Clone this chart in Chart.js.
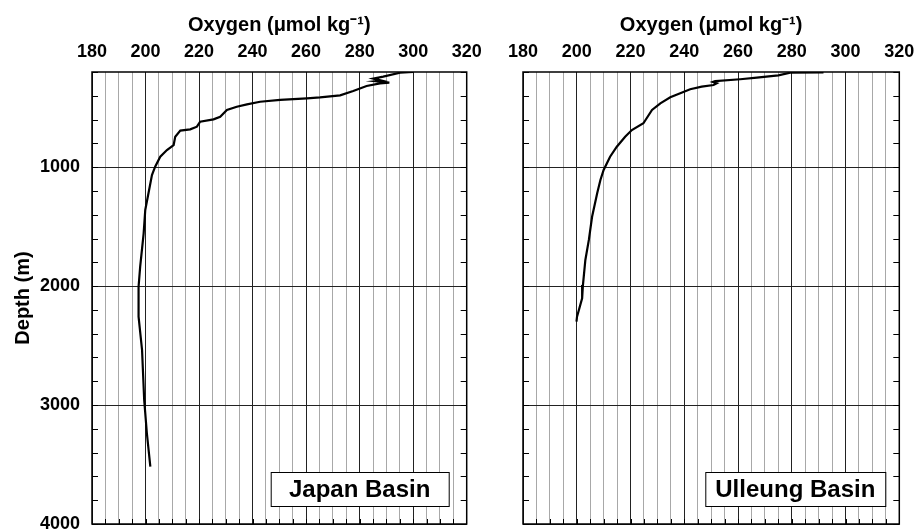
<!DOCTYPE html>
<html>
<head>
<meta charset="utf-8">
<script src="https://cdn.jsdelivr.net/npm/chart.js@4"></script>
<style>
  body { margin: 0; background: #fff; }
  .wrap { position: absolute; top: 0; }
</style>
</head>
<body>
<div class="wrap" style="left:0"><canvas id="grafico1" width="492" height="529"></canvas></div>
<div class="wrap" style="left:480px"><canvas id="grafico2" width="436" height="529"></canvas></div>
<script>
// perfis
const japanOxygen = [300, 295.1, 288.8, 285.1, 288.2, 286.1, 291.1, 287.6, 282.6, 277.6, 272.7, 265.2, 260.3, 250.3, 242.8, 237.9, 234.1, 230.4, 227.9, 225.4, 220.4, 219.2, 216.7, 213, 211.1, 210.5, 208, 205.5, 203.6, 202.4, 201.1, 199.9, 199.3, 198, 197.4, 197.4, 198.7, 199.5, 200.5, 201.8];
const japanDepth = [200, 206, 239, 256, 273, 278, 290, 295, 318, 360, 396, 413, 421, 435, 450, 472, 492, 519, 576, 598, 618, 660, 682, 693, 744, 814, 856, 912, 996, 1066, 1220, 1360, 1556, 1837, 2005, 2257, 2537, 2957, 3237, 3518];

const ulleungOxygen = [291.8, 279.4, 275, 267, 260.8, 251.5, 250.6, 252.1, 250.9, 246.5, 242.2, 238.5, 234.8, 231.1, 228, 224.8, 220.5, 218, 214.9, 212.4, 210, 208.8, 207.6, 205.7, 204.5, 203.2, 202.3, 202, 200.1, 199.9];
const ulleungDepth = [204, 206, 228, 248, 261, 276, 284, 295, 309, 323, 345, 379, 413, 463, 519, 631, 688, 744, 828, 912, 1024, 1108, 1220, 1417, 1612, 1780, 1991, 2103, 2257, 2299];

const oxygenLabels = [180, 200, 220, 240, 260, 280, 300, 320];
const depthLabels = [1000, 2000, 3000, 4000];
const basinNames = ['Japan Basin', 'Ulleung Basin'];

const fonte = 'Liberation Sans, Arial, sans-serif';

// moldura, ticks internos e caixa do nome
const moldura = {
  id: 'moldura',
  afterDraw(chart, args, opts) {
    const {ctx, chartArea: a} = chart;
    const y = chart.scales.y;
    const x = chart.scales.x;
    ctx.save();
    ctx.strokeStyle = '#000';
    ctx.lineWidth = 1;
    ctx.beginPath();
    for (let d = 200; d <= 4000; d += 200) {
      const py = Math.round(y.getPixelForValue(d)) + 0.5;
      ctx.moveTo(a.left, py); ctx.lineTo(a.left + 6, py);
      ctx.moveTo(a.right, py); ctx.lineTo(a.right - 6, py);
    }
    for (let o = 185; o < 320; o += 5) {
      const px = Math.round(x.getPixelForValue(o)) + 0.5;
      ctx.moveTo(px, a.bottom); ctx.lineTo(px, a.bottom - 5);
    }
    ctx.stroke();
    ctx.lineWidth = 1.5;
    ctx.strokeRect(a.left, a.top, a.right - a.left, a.bottom - a.top);

    // caixa do nome
    const w = opts.boxWidth, h = 34;
    const bx = a.right - opts.right - w, by = a.bottom - 18 - h;
    ctx.fillStyle = '#fff';
    ctx.fillRect(bx, by, w, h);
    ctx.lineWidth = 1;
    ctx.strokeRect(bx + 0.5, by + 0.5, w, h);
    ctx.fillStyle = '#000';
    ctx.font = 'bold 24px ' + fonte;
    ctx.textAlign = 'center';
    ctx.textBaseline = 'middle';
    ctx.fillText(opts.label, bx + w / 2, by + h / 2 + 1);
    ctx.restore();
  }
};

function criaGrafico(el, oxy, dep, nome, mostraY, padRight, boxW, boxRight) {
  const pts = oxy.map((o, i) => ({x: o, y: dep[i]}));
  return new Chart(el, {
    type: 'scatter',
    data: {
      datasets: [{
        data: pts,
        showLine: true,
        borderColor: '#000',
        borderWidth: 2.2,
        pointRadius: 0,
        tension: 0
      }]
    },
    options: {
      responsive: false,
      animation: false,
      layout: { padding: { top: 0, right: padRight, bottom: 5, left: 0 } },
      plugins: {
        legend: { display: false },
        tooltip: { enabled: false },
        moldura: { label: nome, boxWidth: boxW, right: boxRight }
      },
      scales: {
        x: {
          type: 'linear',
          position: 'top',
          min: 180,
          max: 320,
          afterFit: s => { s.height = 72; s.paddingLeft = 0; s.paddingRight = 0; },
          ticks: {
            stepSize: 5,
            autoSkip: false,
            maxRotation: 0,
            padding: 9,
            color: '#000',
            font: { family: fonte, size: 18, weight: 'bold' },
            callback: v => oxygenLabels.includes(v) ? String(v) : ''
          },
          grid: {
            drawTicks: false,
            lineWidth: 1,
            color: c => (c.tick && c.tick.value % 20 === 0) ? '#222' : '#a8a8a8'
          },
          border: { display: false },
          title: {
            display: true,
            text: 'Oxygen (μmol kg⁻¹)',
            color: '#000',
            padding: { top: 13, bottom: 0 },
            font: { family: fonte, size: 20, weight: 'bold' }
          }
        },
        y: {
          type: 'linear',
          reverse: true,
          min: 200,
          max: 4000,
          afterFit: s => { s.width = mostraY ? 92 : 43; s.paddingTop = 0; s.paddingBottom = 0; },
          ticks: {
            stepSize: 200,
            autoSkip: false,
            padding: 12,
            color: '#000',
            font: { family: fonte, size: 18, weight: 'bold' },
            callback: v => (mostraY && depthLabels.includes(v)) ? String(v) : ''
          },
          grid: {
            drawTicks: false,
            lineWidth: 1,
            color: c => (c.tick && c.tick.value % 1000 === 0) ? '#222' : 'rgba(0,0,0,0)'
          },
          border: { display: false },
          title: {
            display: mostraY,
            text: 'Depth (m)',
            color: '#000',
            padding: { top: 11, bottom: 0 },
            font: { family: fonte, size: 20, weight: 'bold' }
          }
        }
      }
    },
    plugins: [moldura]
  });
}

criaGrafico(document.getElementById('grafico1'), japanOxygen, japanDepth, basinNames[0], true, 25.3, 178, 18);
criaGrafico(document.getElementById('grafico2'), ulleungOxygen, ulleungDepth, basinNames[1], false, 16.7, 180, 14);
</script>
</body>
</html>
